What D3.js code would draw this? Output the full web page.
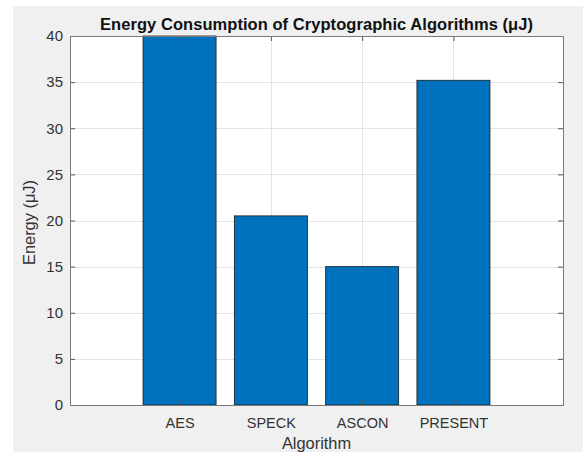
<!DOCTYPE html>
<html>
<head>
<meta charset="utf-8">
<script src="https://cdn.jsdelivr.net/npm/d3@7"></script>
<style>
  body { margin: 0; background: #fff; }
  text { font-family: "Liberation Sans", Arial, sans-serif; }
</style>
</head>
<body>
<script>
let width = 586;
let height = 452;

// data
let algorithms = ["AES", "SPECK", "ASCON", "PRESENT"];
let energy = [40, 20.5, 15, 35.2];
let yTicks = [0, 5, 10, 15, 20, 25, 30, 35, 40];

let plot = { left: 70, top: 36, right: 563, bottom: 405 };

let svg = d3.select("body")
    .append("svg")
    .attr("width", width)
    .attr("height", height);

// figure background
svg.append("rect")
    .attr("x", 13).attr("y", 6)
    .attr("width", 570).attr("height", height - 6)
    .attr("fill", "#f0f0f0");

let x = d3.scaleLinear().domain([-0.2, 5.2]).range([plot.left, plot.right]);
let y = d3.scaleLinear().domain([0, 40]).range([plot.bottom, plot.top]);

svg.append("rect")
    .attr("x", plot.left).attr("y", plot.top)
    .attr("width", plot.right - plot.left).attr("height", plot.bottom - plot.top)
    .attr("fill", "white");

// grid
let grid = svg.append("g").attr("stroke", "#e3e3e3").attr("stroke-width", 1);
grid.selectAll("line.h")
    .data(yTicks)
    .enter().append("line")
    .attr("x1", plot.left).attr("x2", plot.right)
    .attr("y1", d => Math.round(y(d)) + 0.5).attr("y2", d => Math.round(y(d)) + 0.5);
grid.selectAll("line.v")
    .data(algorithms)
    .enter().append("line")
    .attr("x1", (d, i) => Math.round(x(i + 1)) + 0.5).attr("x2", (d, i) => Math.round(x(i + 1)) + 0.5)
    .attr("y1", plot.top).attr("y2", plot.bottom);

// bars
let barW = x(0.8) - x(0);
svg.append("g")
    .selectAll("rect")
    .data(energy)
    .enter().append("rect")
    .attr("x", (d, i) => x(i + 1) - barW / 2)
    .attr("y", d => y(d))
    .attr("width", barW)
    .attr("height", d => y(0) - y(d))
    .attr("fill", "#0072bd")
    .attr("stroke", "#1a1a1a")
    .attr("stroke-width", 0.8);

// axes (ticks point inward, mirrored on top / right like a boxed matlab axes)
let yAxis = d3.axisLeft(y).tickValues(yTicks).tickSizeInner(-5).tickSizeOuter(0).tickPadding(7);
let xAxis = d3.axisBottom(x).tickValues([1, 2, 3, 4])
    .tickFormat(d => algorithms[d - 1]).tickSizeInner(-5).tickSizeOuter(0).tickPadding(13);
let yAxisR = d3.axisRight(y).tickValues(yTicks).tickSizeInner(-5).tickSizeOuter(0).tickFormat("");
let xAxisT = d3.axisTop(x).tickValues([1, 2, 3, 4]).tickSizeInner(-5).tickSizeOuter(0).tickFormat("");

let gy = svg.append("g").attr("transform", "translate(" + plot.left + ",0)").call(yAxis);
let gx = svg.append("g").attr("transform", "translate(0," + plot.bottom + ")").call(xAxis);
let gyr = svg.append("g").attr("transform", "translate(" + plot.right + ",0)").call(yAxisR);
let gxt = svg.append("g").attr("transform", "translate(0," + plot.top + ")").call(xAxisT);
[gx, gy, gyr, gxt].forEach(function(g) {
    g.select(".domain").remove();
    g.selectAll("line").attr("stroke", "#555");
    g.selectAll("text").attr("fill", "#333")
        .style("font-family", "'Liberation Sans', Arial, sans-serif");
});
gy.selectAll("text").style("font-size", "15px");
gx.selectAll("text").style("font-size", "14.5px");

// box
svg.append("rect")
    .attr("x", plot.left + 0.5).attr("y", plot.top + 0.5)
    .attr("width", plot.right - plot.left).attr("height", plot.bottom - plot.top)
    .attr("fill", "none")
    .attr("stroke", "#7a7a7a");

// labels
svg.append("text")
    .attr("x", (plot.left + plot.right) / 2)
    .attr("y", 30)
    .attr("text-anchor", "middle")
    .attr("font-weight", "bold")
    .attr("font-size", "16.5px")
    .attr("textLength", 433)
    .attr("lengthAdjust", "spacing")
    .attr("fill", "#111")
    .text("Energy Consumption of Cryptographic Algorithms (μJ)");

svg.append("text")
    .attr("x", (plot.left + plot.right) / 2)
    .attr("y", 449)
    .attr("text-anchor", "middle")
    .attr("font-size", "16.4px")
    .attr("fill", "#333")
    .text("Algorithm");

svg.append("text")
    .attr("transform", "translate(35," + ((plot.top + plot.bottom) / 2 + 2) + ") rotate(-90)")
    .attr("text-anchor", "middle")
    .attr("font-size", "16.4px")
    .attr("fill", "#333")
    .text("Energy (μJ)");
</script>
</body>
</html>
